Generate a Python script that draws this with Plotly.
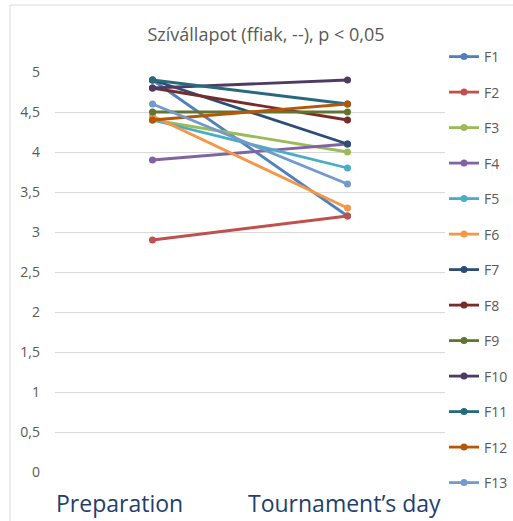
import plotly.graph_objects as go

# Heart-condition scores per fencer, preparation period vs. tournament day
categories = ["Preparation", "Tournament’s day"]
series_names = ["F1", "F2", "F3", "F4", "F5", "F6", "F7",
                "F8", "F9", "F10", "F11", "F12", "F13"]
preparation = [4.9, 2.9, 4.4, 3.9, 4.4, 4.45, 4.9, 4.8, 4.5, 4.8, 4.9, 4.4, 4.6]
tournament = [3.2, 3.2, 4.0, 4.1, 3.8, 3.3, 4.1, 4.4, 4.5, 4.9, 4.6, 4.6, 3.6]
colors = ["#4F81BD", "#C0504D", "#9BBB59", "#8064A2", "#4BACC6", "#F79646",
          "#2C4D75", "#772C2A", "#5F7530", "#4D3B62", "#276A7C", "#B65708",
          "#729ACA"]
y_ticks = [0, 0.5, 1, 1.5, 2, 2.5, 3, 3.5, 4, 4.5, 5]
y_tick_text = ["0", "0,5", "1", "1,5", "2", "2,5", "3", "3,5", "4", "4,5", "5"]

fig = go.Figure()
for name, a, b, c in zip(series_names, preparation, tournament, colors):
    fig.add_trace(go.Scatter(
        x=categories, y=[a, b], name=name, legendgroup=name,
        mode="lines+markers",
        line=dict(color=c, width=2.8),
        marker=dict(color=c, size=7),
    ))

W, H = 513, 521
L, R, T, B = 55, 0, 72, 49
pw, ph = W - L - R, H - T - B
PLOT_RIGHT = 445  # right edge of the gridlines

def px(xp):
    return (xp - L) / pw

def py(yp):
    return (H - B - yp) / ph

fig.update_layout(
    width=W, height=H,
    margin=dict(l=L, r=R, t=T, b=B),
    paper_bgcolor="white", plot_bgcolor="white",
    font=dict(family="Open Sans", color="#595959"),
    title=dict(text="Szívállapot (ffiak, --), p < 0,05",
               x=266 / W, xanchor="center", y=1 - 35 / H, yanchor="middle",
               font=dict(size=18, color="#595959", family="Open Sans")),
    showlegend=True,
    legend=dict(x=1, xanchor="right", y=py(41), yanchor="top",
                font=dict(size=14, color="#595959"),
                tracegroupgap=14.3, itemwidth=30, maxheight=500,
                borderwidth=0, bgcolor="rgba(0,0,0,0)"),
    xaxis=dict(type="category", range=[-0.5, 1.5], showticklabels=False,
               domain=[0, px(PLOT_RIGHT)],
               showgrid=False, zeroline=False, showline=False, ticks=""),
    yaxis=dict(range=[0, 5], tickvals=y_ticks, ticktext=y_tick_text,
               showgrid=True, gridcolor="#D9D9D9", gridwidth=1,
               zeroline=False, showline=False, ticks="",
               ticklabelstandoff=14,
               tickfont=dict(size=14, color="#595959")),
    shapes=[
        dict(type="line", xref="paper", yref="paper",
             x0=px(10), x1=px(513), y0=py(5), y1=py(5),
             line=dict(color="#D9D9D9", width=1)),
        dict(type="line", xref="paper", yref="paper",
             x0=px(10), x1=px(10), y0=py(5), y1=py(521),
             line=dict(color="#D9D9D9", width=1)),
    ],
    annotations=[
        dict(x=categories[0], y=0, xref="x", yref="y", text=categories[0],
             showarrow=False, yanchor="top", yshift=-13, xshift=-33,
             font=dict(size=23, color="#1F3F6E", family="Open Sans")),
        dict(x=categories[1], y=0, xref="x", yref="y", text=categories[1],
             showarrow=False, yanchor="top", yshift=-13, xshift=-3,
             font=dict(size=23, color="#1F3F6E", family="Open Sans")),
    ],
)

fig.write_html("out.html")
